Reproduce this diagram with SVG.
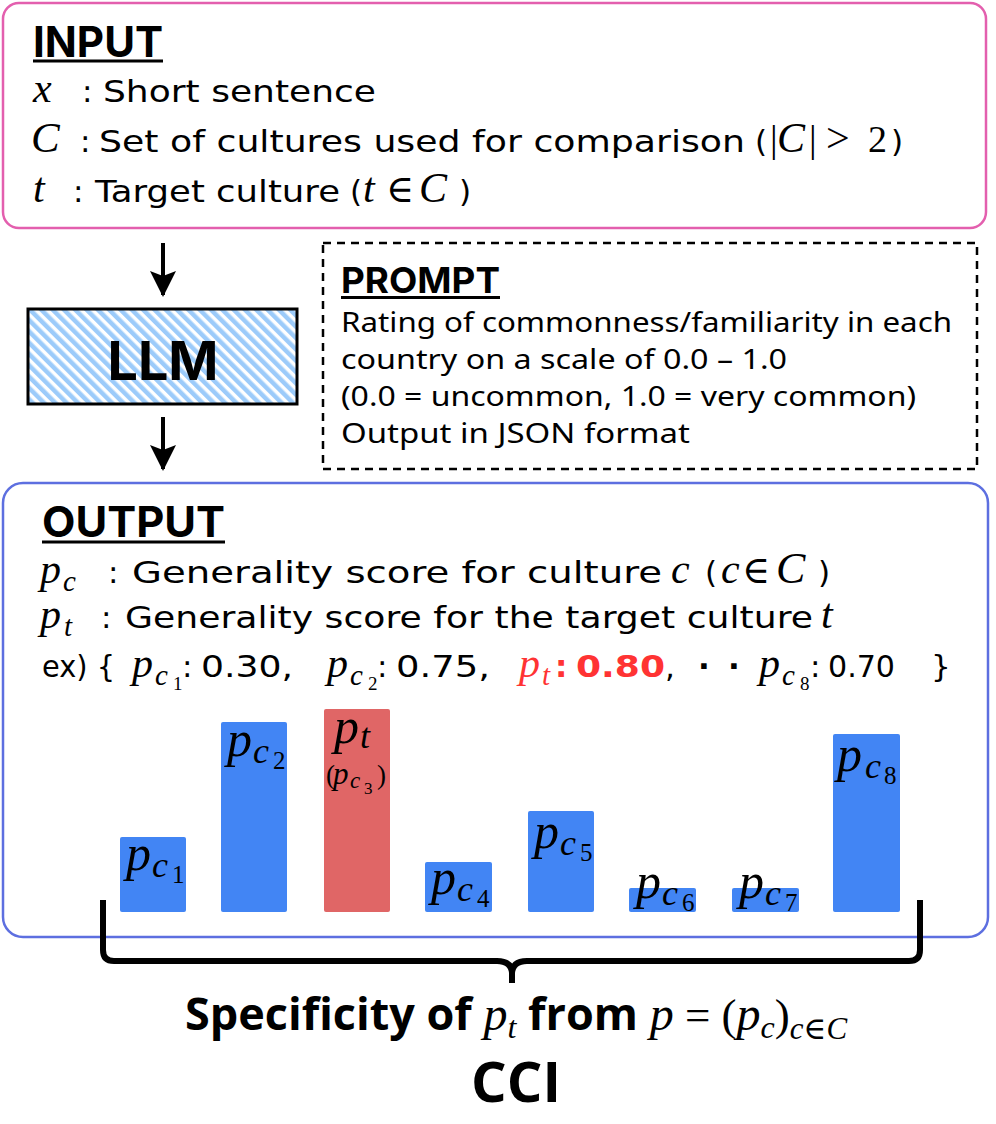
<svg xmlns="http://www.w3.org/2000/svg" width="996" height="1124" viewBox="0 0 996 1124">
<style>
.t{font-family:"DejaVu Sans",sans-serif;font-size:31px;fill:#000}
.ti{font-family:Inter,"DejaVu Sans",sans-serif;font-weight:700;fill:#000}
.m{font-family:"Liberation Serif","DejaVu Serif",serif;font-style:italic;fill:#000}
.mr{font-family:"Liberation Serif","DejaVu Serif",serif;fill:#000}
.pr{font-family:"Noto Sans",sans-serif;font-size:28px;fill:#000}
.ul{stroke:#000;stroke-width:3}
.bar{fill:#4285f4}
.red{fill:#ff3333}
.ob{font-family:"Open Sans","DejaVu Sans",sans-serif;font-weight:700;fill:#000}
</style>
<defs>
<pattern id="hatch" patternUnits="userSpaceOnUse" width="8" height="8" patternTransform="rotate(-45)">
<rect width="8" height="8" fill="#fff"/>
<rect width="4.5" height="8" fill="#9ccbfa"/>
</pattern>
<marker id="arr" viewBox="0 0 26 26" refX="24" refY="13" markerWidth="26" markerHeight="26" markerUnits="userSpaceOnUse" orient="auto">
<path d="M0,0 L26,13 L0,26 L5,13 Z" fill="#000"/>
</marker>
</defs>
<rect width="996" height="1124" fill="#fff"/>

<g id="input">
<rect x="3" y="3" width="983" height="225" rx="16" fill="#fff" stroke="#e35fae" stroke-width="2.5"/>
<text class="ti" x="33" y="57" font-size="43" textLength="130" lengthAdjust="spacingAndGlyphs">INPUT</text>
<line class="ul" x1="33" y1="61" x2="163" y2="61"/>
<text class="m" x="33" y="102" font-size="42">x</text>
<text class="t" x="82" y="102">:</text>
<text class="t" x="103" y="102" textLength="273" lengthAdjust="spacingAndGlyphs">Short sentence</text>
<text class="m" x="31" y="152" font-size="43">C</text>
<text class="t" x="80" y="152">:</text>
<text class="t" x="99" y="152" textLength="646" lengthAdjust="spacingAndGlyphs">Set of cultures used for comparison</text>
<text class="t" x="755" y="152">(</text>
<text class="mr" x="770" y="152" font-size="38">|</text>
<text class="m" x="777" y="152" font-size="42">C</text>
<text class="mr" x="809" y="152" font-size="38">|</text>
<text class="mr" x="826" y="152" font-size="42">&gt;</text>
<text class="mr" x="868" y="152" font-size="38">2</text>
<text class="t" x="891" y="152">)</text>
<text class="m" x="33" y="202" font-size="42">t</text>
<text class="t" x="73" y="202">:</text>
<text class="t" x="95" y="202" textLength="245" lengthAdjust="spacingAndGlyphs">Target culture</text>
<text class="t" x="350" y="202">(</text>
<text class="m" x="363" y="202" font-size="42">t</text>
<text class="mr" x="386" y="202" font-size="38">∈</text>
<text class="m" x="419" y="202" font-size="42">C</text>
<text class="t" x="459" y="202">)</text>
</g>

<g id="llm">
<rect x="28" y="309" width="269" height="95" fill="url(#hatch)" stroke="#000" stroke-width="3"/>
<text class="ti" x="163" y="380" font-size="54" text-anchor="middle" textLength="111" lengthAdjust="spacingAndGlyphs">LLM</text>
</g>

<g id="prompt">
<rect x="323" y="243" width="654" height="226" fill="none" stroke="#000" stroke-width="2.5" stroke-dasharray="8,6"/>
<text class="ti" x="341" y="293" font-size="36" textLength="159" lengthAdjust="spacingAndGlyphs">PROMPT</text>
<line class="ul" x1="341" y1="297.5" x2="500" y2="297.5"/>
<text class="pr" x="341" y="332" textLength="611" lengthAdjust="spacingAndGlyphs">Rating of commonness/familiarity in each</text>
<text class="pr" x="341" y="369" textLength="446" lengthAdjust="spacingAndGlyphs">country on a scale of 0.0 – 1.0</text>
<text class="pr" x="341" y="406" textLength="575" lengthAdjust="spacingAndGlyphs">(0.0 = uncommon, 1.0 = very common)</text>
<text class="pr" x="341" y="443" textLength="349" lengthAdjust="spacingAndGlyphs">Output in JSON format</text>
</g>

<g id="output">
<rect x="3" y="483" width="985" height="454" rx="20" fill="#fff" stroke="#5d6fe0" stroke-width="2.5"/>
<text class="ti" x="42" y="537" font-size="43" textLength="183" lengthAdjust="spacingAndGlyphs">OUTPUT</text>
<line class="ul" x1="42" y1="542" x2="225" y2="542"/>
<text class="m" x="40" y="583" font-size="42">p</text>
<text class="m" x="63" y="591" font-size="29">c</text>
<text class="t" x="108" y="583">:</text>
<text class="t" x="132" y="583" textLength="530" lengthAdjust="spacingAndGlyphs">Generality score for culture</text>
<text class="m" x="671" y="583" font-size="42">c</text>
<text class="t" x="705" y="583">(</text>
<text class="m" x="721" y="583" font-size="42">c</text>
<text class="mr" x="742" y="583" font-size="38">∈</text>
<text class="m" x="776" y="583" font-size="44">C</text>
<text class="t" x="818" y="583">)</text>
<text class="m" x="40" y="628" font-size="42">p</text>
<text class="m" x="64" y="636" font-size="29">t</text>
<text class="t" x="101" y="628">:</text>
<text class="t" x="125" y="628" textLength="688" lengthAdjust="spacingAndGlyphs">Generality score for the target culture</text>
<text class="m" x="821" y="628" font-size="42">t</text>
<text class="t" x="42" y="677" textLength="73" lengthAdjust="spacingAndGlyphs">ex) {</text>
<text class="m" x="132" y="677" font-size="42">p</text>
<text class="m" x="155" y="685" font-size="29">c</text>
<text class="mr" x="173" y="690" font-size="19">1</text>
<text class="t" x="182" y="677">:</text>
<text class="t" x="201" y="677" textLength="92" lengthAdjust="spacingAndGlyphs">0.30,</text>
<text class="m" x="327" y="677" font-size="42">p</text>
<text class="m" x="350" y="685" font-size="29">c</text>
<text class="mr" x="368" y="690" font-size="19">2</text>
<text class="t" x="377" y="677">:</text>
<text class="t" x="396" y="677" textLength="94" lengthAdjust="spacingAndGlyphs">0.75,</text>
<text class="m red" x="519" y="677" font-size="42">p</text>
<text class="m red" x="542" y="685" font-size="29">t</text>
<text class="t red" x="555" y="677" font-weight="700">:</text>
<text class="t red" x="576" y="677" font-weight="700" textLength="89" lengthAdjust="spacingAndGlyphs">0.80</text>
<text class="t" x="665" y="677">,</text>
<text class="t" x="698" y="677" font-weight="700">·</text>
<text class="t" x="728" y="677" font-weight="700">·</text>
<text class="m" x="759" y="677" font-size="42">p</text>
<text class="m" x="782" y="685" font-size="29">c</text>
<text class="mr" x="800" y="690" font-size="19">8</text>
<text class="t" x="810" y="677">:</text>
<text class="t" x="828" y="677" textLength="67" lengthAdjust="spacingAndGlyphs">0.70</text>
<text class="t" x="931" y="677">}</text>
</g>

<g id="bar1">
<rect class="bar" x="120" y="837" width="66" height="75" rx="2"/>
<text class="m" x="126" y="870" font-size="50">p</text>
<text class="m" x="152" y="877" font-size="36">c</text>
<text class="mr" x="172" y="883" font-size="25">1</text>
</g>
<g id="bar2">
<rect class="bar" x="221" y="722" width="66" height="190" rx="2"/>
<text class="m" x="227" y="756" font-size="50">p</text>
<text class="m" x="253" y="763" font-size="36">c</text>
<text class="mr" x="273" y="769" font-size="25">2</text>
</g>
<g id="bar3">
<rect x="324" y="709" width="66" height="203" rx="2" fill="#e06666"/>
<text class="m" x="334" y="743" font-size="50">p</text>
<text class="m" x="360" y="748" font-size="36">t</text>
<text class="mr" x="326" y="784" font-size="27">(</text>
<text class="m" x="333" y="784" font-size="31">p</text>
<text class="m" x="350" y="788" font-size="23">c</text>
<text class="mr" x="364" y="794" font-size="17">3</text>
<text class="mr" x="377" y="784" font-size="27">)</text>
</g>
<g id="bar4">
<rect class="bar" x="425" y="862" width="67" height="50" rx="2"/>
<text class="m" x="431" y="894" font-size="50">p</text>
<text class="m" x="457" y="901" font-size="36">c</text>
<text class="mr" x="477" y="907" font-size="25">4</text>
</g>
<g id="bar5">
<rect class="bar" x="528" y="811" width="66" height="101" rx="2"/>
<text class="m" x="534" y="848" font-size="50">p</text>
<text class="m" x="560" y="855" font-size="36">c</text>
<text class="mr" x="580" y="861" font-size="25">5</text>
</g>
<g id="bar6">
<rect class="bar" x="629" y="888" width="67" height="24" rx="2"/>
<text class="m" x="636" y="898" font-size="50">p</text>
<text class="m" x="662" y="905" font-size="36">c</text>
<text class="mr" x="682" y="911" font-size="25">6</text>
</g>
<g id="bar7">
<rect class="bar" x="732" y="888" width="67" height="24" rx="2"/>
<text class="m" x="739" y="898" font-size="50">p</text>
<text class="m" x="765" y="905" font-size="36">c</text>
<text class="mr" x="785" y="911" font-size="25">7</text>
</g>
<g id="bar8">
<rect class="bar" x="833" y="734" width="67" height="178" rx="2"/>
<text class="m" x="837" y="771" font-size="50">p</text>
<text class="m" x="865" y="778" font-size="36">c</text>
<text class="mr" x="884" y="784" font-size="25">8</text>
</g>

<g id="connectors">
<line x1="163" y1="243" x2="163" y2="295" stroke="#000" stroke-width="4" marker-end="url(#arr)"/>
<line x1="163" y1="417" x2="163" y2="469" stroke="#000" stroke-width="4" marker-end="url(#arr)"/>
<path d="M103,900 V950 Q103,961 114,961 H497 Q512,961 512,974 M920,900 V950 Q920,961 909,961 H527 Q512,961 512,974 V983" fill="none" stroke="#000" stroke-width="6"/>
</g>

<g id="cci">
<text class="ob" x="516" y="1030" font-size="45" text-anchor="middle">Specificity of <tspan class="m" font-weight="400" font-size="48">p</tspan><tspan class="m" font-weight="400" font-size="32" dy="8">t</tspan><tspan dy="-8"> from </tspan><tspan class="m" font-weight="400" font-size="48">p</tspan><tspan class="mr" font-weight="400" font-size="45"> = (</tspan><tspan class="m" font-weight="400" font-size="48">p</tspan><tspan class="m" font-weight="400" font-size="32" dy="8">c</tspan><tspan class="mr" font-weight="400" font-size="45" dy="-8">)</tspan><tspan class="m" font-weight="400" font-size="31" dy="9">c∈C</tspan></text>
<text class="ob" x="516" y="1102" font-size="56" text-anchor="middle">CCI</text>
</g>
</svg>
